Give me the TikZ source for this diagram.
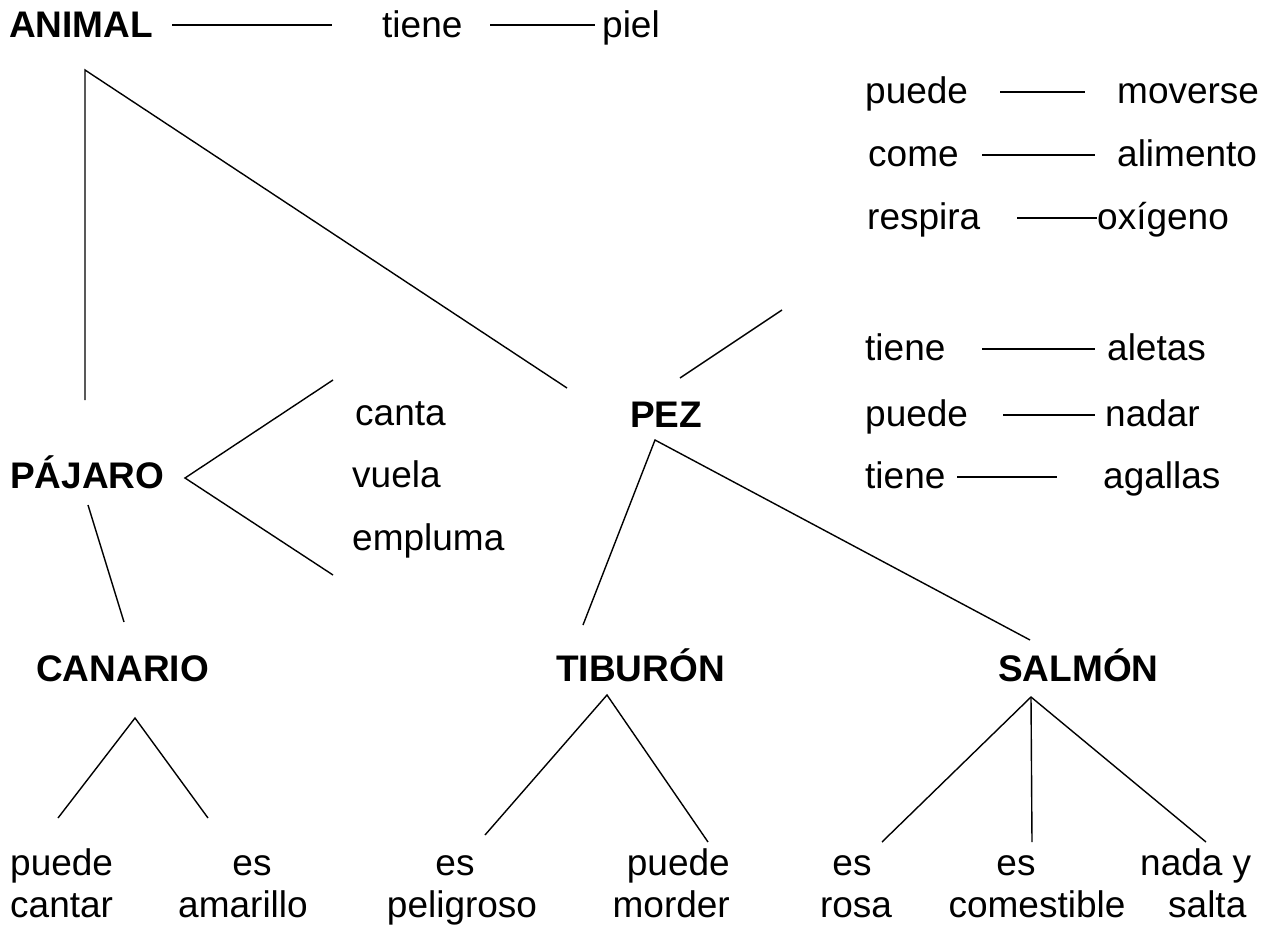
\documentclass[tikz,border=0pt]{standalone}
\usepackage{fontspec}
\setmainfont{Liberation Sans}
\begin{document}
\begin{tikzpicture}[x=1pt,y=-1pt,
  txt/.style={anchor=base west, inner sep=0pt, font=\fontsize{37}{40}\selectfont},
  concept/.style={txt, font=\fontsize{37}{40}\selectfont\bfseries},
  link/.style={line width=1.4pt, line cap=butt}]
\useasboundingbox (0,0) rectangle (1278,926);
% top row
\node[concept] (animal) at (9,37) {ANIMAL};
\node[txt] (tiene0) at (382,37) {tiene};
\node[txt] (piel) at (602,37) {piel};
\coordinate (a1) at (172,25); \coordinate (a2) at (332,25);
\coordinate (a3) at (490,25); \coordinate (a4) at (595,25);
\draw[link] (a1) -- (a2); \draw[link] (a3) -- (a4);
% animal tree
\coordinate (animTop) at (85,70); \coordinate (animDown) at (85,400); \coordinate (animPez) at (567,388);
\draw[link] (animDown) -- (animTop) -- (animPez);
% right properties
\node[txt] (puede1) at (865,103) {puede};
\node[txt] (moverse) at (1117,103) {moverse};
\coordinate (p1a) at (1000,92); \coordinate (p1b) at (1085,92);
\draw[link] (p1a) -- (p1b);
\node[txt] (come) at (868,166) {come};
\node[txt] (alimento) at (1117,166) {alimento};
\coordinate (p2a) at (982,155); \coordinate (p2b) at (1095,155);
\draw[link] (p2a) -- (p2b);
\node[txt] (respira) at (867,229) {respira};
\node[txt] (oxigeno) at (1097,229) {oxígeno};
\coordinate (p3a) at (1017,218); \coordinate (p3b) at (1097,218);
\draw[link] (p3a) -- (p3b);
% pez
\node[concept] (pez) at (630,427) {PEZ};
\coordinate (pezUpA) at (680,378); \coordinate (pezUpB) at (782,310);
\draw[link] (pezUpA) -- (pezUpB);
\node[txt] (tiene1) at (865,360) {tiene};
\node[txt] (aletas) at (1107,360) {aletas};
\coordinate (q1a) at (982,349); \coordinate (q1b) at (1095,349);
\draw[link] (q1a) -- (q1b);
\node[txt] (puede2) at (865,426) {puede};
\node[txt] (nadar) at (1105,426) {nadar};
\coordinate (q2a) at (1003,415); \coordinate (q2b) at (1095,415);
\draw[link] (q2a) -- (q2b);
\node[txt] (tiene2) at (865,488) {tiene};
\node[txt] (agallas) at (1103,488) {agallas};
\coordinate (q3a) at (957,477); \coordinate (q3b) at (1057,477);
\draw[link] (q3a) -- (q3b);
\coordinate (pezApex) at (655,440); \coordinate (pezTib) at (583,625); \coordinate (pezSal) at (1030,640);
\draw[link] (pezTib) -- (pezApex) -- (pezSal);
% pajaro
\node[concept] (pajaro) at (10,488) {PÁJARO};
\coordinate (pjApex) at (185,478); \coordinate (pjUp) at (333,380); \coordinate (pjDn) at (333,575);
\draw[link] (pjUp) -- (pjApex) -- (pjDn);
\node[txt] (canta) at (355,425) {canta};
\node[txt] (vuela) at (352,487) {vuela};
\node[txt] (empluma) at (352,550) {empluma};
\coordinate (pjC1) at (88,505); \coordinate (pjC2) at (124,622);
\draw[link] (pjC1) -- (pjC2);
% level 3
\node[concept] (canario) at (36,681) {CANARIO};
\node[concept] (tiburon) at (556,681) {TIBURÓN};
\node[concept] (salmon) at (998,681) {SALMÓN};
\coordinate (caApex) at (135,718); \coordinate (caL) at (58,818); \coordinate (caR) at (208,818);
\draw[link] (caL) -- (caApex) -- (caR);
\coordinate (tiApex) at (607,695); \coordinate (tiL) at (485,835); \coordinate (tiR) at (708,842);
\draw[link] (tiL) -- (tiApex) -- (tiR);
\coordinate (saApex) at (1031,697); \coordinate (saL) at (882,842); \coordinate (saM) at (1032,842); \coordinate (saR) at (1206,842);
\draw[link] (saL) -- (saApex) -- (saR); \draw[link] (saApex) -- (saM);
% leaves
\node[txt] (l1a) at (10,875) {puede};
\node[txt] (l1b) at (10,917) {cantar};
\node[txt, anchor=base] (l2a) at (252,875) {es};
\node[txt, anchor=base] (l2b) at (243,917) {amarillo};
\node[txt, anchor=base] (l3a) at (455,875) {es};
\node[txt, anchor=base] (l3b) at (462,917) {peligroso};
\node[txt, anchor=base east] (l4a) at (730,875) {puede};
\node[txt, anchor=base east] (l4b) at (730,917) {morder};
\node[txt, anchor=base] (l5a) at (852,875) {es};
\node[txt, anchor=base] (l5b) at (856,917) {rosa};
\node[txt, anchor=base] (l6a) at (1016,875) {es};
\node[txt, anchor=base] (l6b) at (1037,917) {comestible};
\node[txt, anchor=base west] (l7a) at (1140,875) {nada y};
\node[txt, anchor=base west] (l7b) at (1168,917) {salta};
\end{tikzpicture}
\end{document}
